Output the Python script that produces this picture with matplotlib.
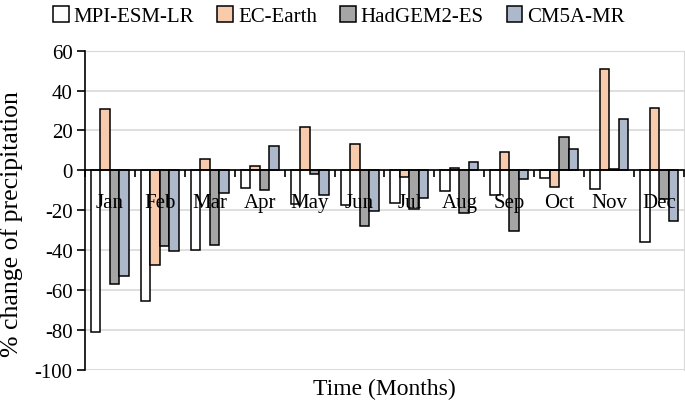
import matplotlib
matplotlib.use("Agg")
import matplotlib.pyplot as plt
import numpy as np
from matplotlib.patches import Patch

months = ["Jan", "Feb", "Mar", "Apr", "May", "Jun", "Jul", "Aug", "Sep", "Oct", "Nov", "Dec"]
series_names = ["MPI-ESM-LR", "EC-Earth", "HadGEM2-ES", "CM5A-MR"]
mpi = [-81.2, -65.6, -40.2, -8.9, -17.0, -17.6, -16.2, -10.5, -12.2, -3.7, -9.2, -36.0]
ec = [31.0, -47.4, 5.9, 2.2, 21.5, 13.0, -3.3, 1.0, 9.2, -8.5, 50.8, 31.3]
had = [-57.0, -38.0, -37.3, -9.9, -1.7, -28.0, -19.6, -21.4, -30.5, 16.6, 0.5, -14.2]
cm5 = [-52.8, -40.5, -11.2, 12.3, -12.6, -20.6, -13.9, 4.2, -4.5, 10.6, 25.8, -25.6]
colors = ["#FFFFFF", "#F8CBAD", "#A5A5A5", "#ADB9CA"]
yticks = [60, 40, 20, 0, -20, -40, -60, -80, -100]

plt.rcParams['font.family'] = ['Liberation Serif', 'DejaVu Serif']

fig = plt.figure(figsize=(6.85, 4.02), dpi=100)
ax = fig.add_axes([85/685, 1-370.7/402, 599/685, (370.7-51.7)/402])

x = np.arange(len(months))
group = 0.76
bw = group / 4
for i, (vals, c) in enumerate(zip([mpi, ec, had, cm5], colors)):
    ax.bar(x - group/2 + bw*(i+0.5), vals, width=bw, color=c, edgecolor="black",
           linewidth=1.1, zorder=2)

ax.set_xlim(-0.5, len(months) - 0.5)
ax.set_ylim(-100, 60)
ax.set_yticks(yticks)
ax.set_yticklabels([str(v) for v in yticks], fontsize=15)
ax.yaxis.grid(True, color="#D9D9D9", linewidth=1.2, zorder=0)
ax.set_axisbelow(True)

ax.spines['bottom'].set_position(('data', 0))
ax.spines['bottom'].set_linewidth(1.2)
ax.spines['bottom'].set_zorder(4)
ax.spines['left'].set_linewidth(1.2)
ax.spines['left'].set_zorder(4)
ax.spines['right'].set_color("#D9D9D9")
ax.spines['top'].set_color("#D9D9D9")

ax.set_xticks(x)
ax.set_xticklabels(months, fontsize=15)
ax.tick_params(axis='x', which='major', length=0, pad=16)
ax.set_xticks(np.arange(-0.5, len(months), 1.0), minor=True)
ax.tick_params(axis='x', which='minor', length=5, width=1.2, direction='out')
ax.tick_params(axis='y', length=6, width=1.2, direction='out', pad=3)
ax.xaxis.set_zorder(5)

# bottom frame line
ax.axhline(-100, color="#D9D9D9", linewidth=1.2, zorder=0)

ax.set_ylabel("% change of precipitation", fontsize=18.5)
ax.yaxis.set_label_coords(-0.103, 0.46)
ax.set_xlabel("Time (Months)", fontsize=17)
ax.xaxis.set_label_coords(0.5, -0.025)

handles = [Patch(facecolor=c, edgecolor="black", linewidth=1.1) for c in colors]
fig.legend(handles, series_names, loc="upper center", bbox_to_anchor=(0.495, 1.028),
           ncol=4, frameon=False, fontsize=15, handlelength=0.75, handleheight=0.75,
           handletextpad=0.25, columnspacing=1.1)

fig.savefig("out.png", dpi=100)
